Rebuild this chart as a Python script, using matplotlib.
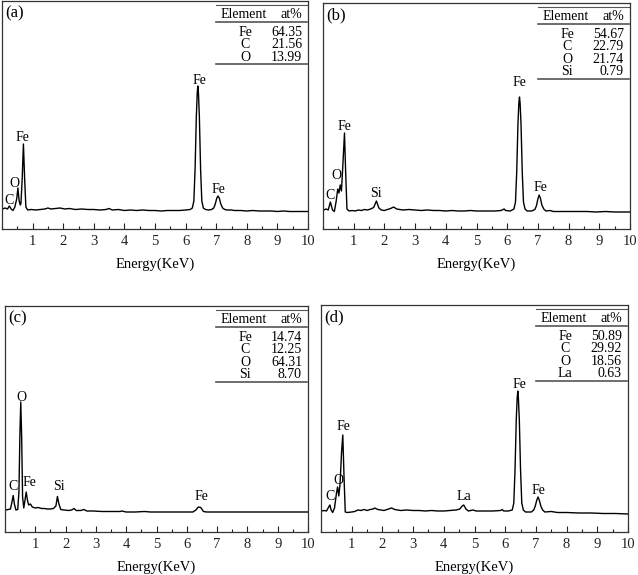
import matplotlib
matplotlib.use("Agg")
import matplotlib.pyplot as plt
from matplotlib.ticker import MultipleLocator

plt.rcParams["font.family"] = ["Liberation Serif", "DejaVu Serif"]

# -----------------------------
# Spectrum (a)
# -----------------------------
energy_a = [0.02, 0.10, 0.18, 0.24, 0.30, 0.36, 0.42, 0.48, 0.52, 0.56, 0.60,
            0.62, 0.66, 0.70, 0.74, 0.78, 0.84, 0.95, 1.1, 1.25, 1.4, 1.5, 1.6,
            1.75, 1.9, 2.05, 2.2, 2.4, 2.6, 2.8, 3.0, 3.2, 3.4, 3.5, 3.6, 3.8,
            4.0, 4.2, 4.4, 4.6, 4.8, 5.0, 5.2, 5.4, 5.6, 5.8, 6.0, 6.15, 6.22,
            6.27, 6.31, 6.35, 6.38, 6.40, 6.42, 6.45, 6.49, 6.53, 6.58, 6.65,
            6.75, 6.85, 6.92, 6.97, 7.02, 7.06, 7.10, 7.15, 7.21, 7.28, 7.35,
            7.5, 7.6, 7.8, 8.0, 8.2, 8.4, 8.6, 8.8, 9.0, 9.2, 9.4, 9.6, 9.8,
            10.0]
counts_a = [20, 21, 20, 23, 20, 18.5, 22, 30, 41, 28, 24,
            26, 50, 85, 50, 22, 19, 19.5, 19, 19.5, 20, 21, 20,
            20.5, 21, 20, 20.5, 19.5, 20, 19.5, 19.5, 19, 19.5, 20.5, 19, 19.5,
            18.5, 19, 18.5, 19, 18.5, 18.5, 18, 18.5, 18.5, 18.5, 19, 19.5, 21,
            28, 60, 112, 136, 143, 136, 112, 60, 28, 21, 19.5,
            19, 19.5, 21, 25, 31, 33, 31, 25, 21, 19.5, 19,
            19, 18.5, 18.5, 18, 18.5, 18, 18, 18, 17.5, 18, 17.5, 17.5, 17.5,
            17.5]
table_a = ["Fe", "C", "O"]
atpct_a = ["64.35", "21.56", "13.99"]
peaks_a = [("C", 0.22, 29), ("O", 0.41, 46), ("Fe", 0.68, 92),
           ("Fe", 6.46, 148), ("Fe", 7.08, 40)]

# -----------------------------
# Spectrum (b)
# -----------------------------
energy_b = [0.02, 0.10, 0.17, 0.24, 0.31, 0.37, 0.43, 0.48, 0.52, 0.56, 0.60,
            0.64, 0.70, 0.74, 0.78, 0.85, 0.95, 1.05, 1.15, 1.25, 1.35, 1.45,
            1.55, 1.65, 1.74, 1.82, 1.9, 2.0, 2.1, 2.2, 2.3, 2.4, 2.5, 2.6,
            2.8, 3.0, 3.2, 3.4, 3.6, 3.8, 4.0, 4.2, 4.4, 4.6, 4.8, 5.0, 5.2,
            5.4, 5.6, 5.8, 5.9, 5.95, 6.1, 6.22, 6.27, 6.31, 6.35, 6.38, 6.40,
            6.42, 6.45, 6.49, 6.53, 6.58, 6.65, 6.8, 6.9, 6.95, 7.0, 7.04,
            7.08, 7.13, 7.19, 7.26, 7.4, 7.5, 7.7, 8.0, 8.3, 8.6, 8.9, 9.2,
            9.5, 9.8, 10.0]
counts_b = [19, 20, 19, 27, 19, 17.5, 28, 40, 36, 44, 38,
            60, 96, 55, 20, 18, 18.5, 18, 19, 18.5, 19.5, 19,
            20, 21.5, 28, 21, 19, 18.5, 19.5, 20.5, 22, 20, 19.5, 19,
            19.5, 19, 18.5, 19, 18.5, 18.5, 18, 18.5, 18, 18, 18.5, 18, 18,
            18, 18, 18.5, 20, 18.5, 18, 20, 27, 57, 105, 126, 132,
            126, 105, 57, 27, 20, 18, 18, 19.5, 23, 30, 34,
            31, 24, 20, 18, 18.5, 17.5, 17.5, 17.5, 17.5, 17.5, 17, 17.5,
            17, 17, 17]
table_b = ["Fe", "C", "O", "Si"]
atpct_b = ["54.67", "22.79", "21.74", "0.79"]
peaks_b = [("C", 0.24, 34), ("O", 0.45, 54), ("Fe", 0.70, 103),
           ("Si", 1.73, 36), ("Fe", 6.40, 147), ("Fe", 7.08, 42)]

# -----------------------------
# Spectrum (c)
# -----------------------------
energy_c = [0.02, 0.10, 0.18, 0.23, 0.27, 0.31, 0.36, 0.42, 0.46, 0.49, 0.52,
            0.55, 0.58, 0.62, 0.66, 0.70, 0.74, 0.78, 0.84, 0.9, 1.0, 1.1,
            1.2, 1.3, 1.4, 1.5, 1.6, 1.68, 1.73, 1.78, 1.84, 1.95, 2.1, 2.2,
            2.28, 2.35, 2.5, 2.6, 2.7, 2.9, 3.2, 3.5, 3.8, 3.85, 4.0, 4.3,
            4.6, 4.8, 5.0, 6.2, 6.3, 6.38, 6.46, 6.55, 6.65, 10.0]
counts_c = [22, 22.5, 23, 30, 36.5, 28, 22, 22.5, 40, 95, 130,
            95, 35, 24, 32, 40, 32, 27, 28, 25, 24, 24.5,
            23.5, 23.5, 23, 23, 23.5, 26, 35.5, 28, 22.5, 22, 21.5, 22,
            23.5, 21.5, 21.5, 22.5, 21, 21, 20.5, 20.5, 20.5, 21, 20, 20,
            20.5, 20, 20, 20, 22, 25, 24.5, 20.5, 20, 20]
table_c = ["Fe", "C", "O", "Si"]
atpct_c = ["14.74", "12.25", "64.31", "8.70"]
peaks_c = [("C", 0.27, 45), ("O", 0.54, 135), ("Fe", 0.81, 49),
           ("Si", 1.77, 45), ("Fe", 6.48, 35)]

# -----------------------------
# Spectrum (d)
# -----------------------------
energy_d = [0.02, 0.10, 0.18, 0.25, 0.29, 0.33, 0.38, 0.44, 0.50, 0.54, 0.58,
            0.62, 0.67, 0.71, 0.75, 0.79, 0.86, 1.0, 1.1, 1.2, 1.3, 1.4, 1.5,
            1.6, 1.7, 1.75, 1.85, 1.95, 2.05, 2.15, 2.3, 2.4, 2.5, 2.6, 2.8,
            3.0, 3.2, 3.4, 3.6, 3.8, 4.0, 4.2, 4.4, 4.52, 4.6, 4.65, 4.72,
            4.8, 4.95, 5.05, 5.3, 5.6, 5.85, 5.9, 5.95, 6.1, 6.23, 6.28, 6.32,
            6.36, 6.39, 6.41, 6.43, 6.46, 6.50, 6.54, 6.59, 6.66, 6.85, 6.93,
            6.98, 7.03, 7.07, 7.11, 7.16, 7.22, 7.29, 7.5, 7.7, 8.0, 8.4, 8.8,
            9.2, 9.6, 10.0]
counts_d = [21, 21.5, 21, 25, 27, 22, 19.5, 24, 38, 45, 36,
            48, 80, 97, 55, 20, 19.5, 20, 20.5, 22, 21.5, 22.5, 21.5,
            22.5, 23, 24, 22.5, 22, 21.5, 22.5, 24, 22.5, 22, 21.5, 22,
            21.5, 21.5, 21, 21.5, 21, 21, 21.5, 22, 23, 26, 27, 23,
            21, 22, 21, 21, 21, 21.5, 22.5, 21, 21, 22, 29, 62,
            112, 134, 141, 134, 112, 62, 29, 22, 20, 20, 22,
            26, 32, 35, 32, 26, 22, 20, 20.5, 19.5, 19.5, 19, 19,
            18.5, 18.5, 18]
table_d = ["Fe", "C", "O", "La"]
atpct_d = ["50.89", "29.92", "18.56", "0.63"]
peaks_d = [("C", 0.30, 35), ("O", 0.57, 51), ("Fe", 0.72, 105),
           ("La", 4.67, 35), ("Fe", 6.45, 148), ("Fe", 7.08, 42)]

W, H = 638, 575
fig = plt.figure(figsize=(W / 100, H / 100), dpi=100)

# axes boxes in pixels: left, top, right, bottom
panels = [
    ("(a)", (2, 1, 308, 229), energy_a, counts_a, table_a, atpct_a, peaks_a),
    ("(b)", (323, 3, 630, 229), energy_b, counts_b, table_b, atpct_b, peaks_b),
    ("(c)", (5, 306, 308, 532), energy_c, counts_c, table_c, atpct_c, peaks_c),
    ("(d)", (321, 305, 628, 532), energy_d, counts_d, table_d, atpct_d, peaks_d),
]

for tag, box, energy, counts, elems, vals, peaks in panels:
    l, t, r, b = box
    aw, ah = r - l, b - t
    ax = fig.add_axes([l / W, 1 - b / H, aw / W, ah / H])

    ax.plot(energy, counts, color="black", lw=1.0)
    ax.set_xlim(0, 10)
    ax.set_ylim(0, ah)

    ax.set_xticks(range(1, 11))
    ax.xaxis.set_minor_locator(MultipleLocator(0.5))
    ax.set_yticks([])
    ax.tick_params(axis="x", which="both", direction="in", top=False,
                   labelsize=10.5, pad=4, colors="#222222")
    ax.tick_params(axis="x", which="major", length=4, width=0.8)
    ax.tick_params(axis="x", which="minor", length=2.5, width=0.8)
    for s in ax.spines.values():
        s.set_color("#333333")
        s.set_linewidth(0.9)

    ax.set_xlabel("Energy(KeV)", fontsize=10.5)
    ax.xaxis.set_label_coords(0.5, -29 / ah)

    # panel tag
    ax.text(3 / aw, 1 - 12 / ah, tag, transform=ax.transAxes, fontsize=12,
            ha="left", va="center")

    # peak labels
    for name, e, y in peaks:
        ax.text(e, y, name, fontsize=10, ha="center", va="center")

    # composition table (pixel offsets from the top-right corner)
    fx = lambda dx: 1 - dx / aw
    fy = lambda dy: 1 - dy / ah
    ax.plot([fx(92), fx(1)], [fy(4), fy(4)], transform=ax.transAxes,
            color="#555555", lw=0.8, clip_on=False)
    ax.plot([fx(92), fx(1)], [fy(21), fy(21)], transform=ax.transAxes,
            color="#555555", lw=1.2, clip_on=False)
    ax.text(fx(64), fy(13), "Element", transform=ax.transAxes,
            fontsize=10, ha="center", va="center")
    ax.text(fx(6), fy(13), "at%", transform=ax.transAxes,
            fontsize=10, ha="right", va="center")
    for i, (el, v) in enumerate(zip(elems, vals)):
        yy = 31.5 + 12.4 * i
        ax.text(fx(63), fy(yy), el, transform=ax.transAxes,
                fontsize=10, ha="center", va="center")
        ax.text(fx(6), fy(yy), v, transform=ax.transAxes,
                fontsize=10, ha="right", va="center")
    yb = 31.5 + 12.4 * (len(elems) - 1) + 7
    ax.plot([fx(92), fx(1)], [fy(yb), fy(yb)], transform=ax.transAxes,
            color="#555555", lw=1.2, clip_on=False)

fig.savefig("out.png", dpi=100)
